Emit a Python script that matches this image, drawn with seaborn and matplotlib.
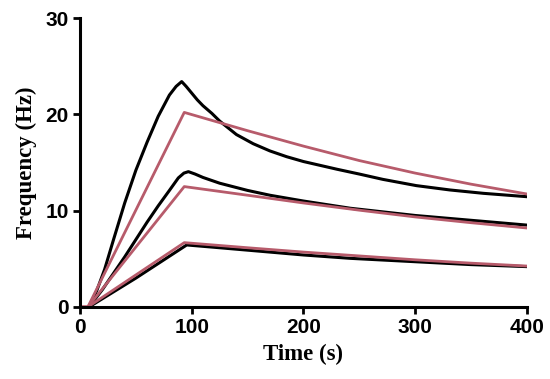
import seaborn as sns
import matplotlib.pyplot as plt
import pandas as pd

# measured sensor response (black) and fitted model (red), three concentrations
t_high = [8, 15, 22, 30, 40, 50, 60, 70, 80, 86, 91, 95, 100, 105, 110, 118, 125, 140, 155, 170,
          185, 200, 230, 250, 271, 301, 331, 361, 400]
f_high = [0, 1.7, 3.9, 7.0, 10.8, 14.2, 17.1, 19.8, 22.0, 22.9, 23.4, 22.9, 22.2, 21.5, 20.9, 20.1,
          19.3, 17.9, 16.95, 16.2, 15.6, 15.1, 14.3, 13.8, 13.25, 12.6, 12.15, 11.8, 11.45]

t_mid = [8, 20, 30, 40, 50, 60, 70, 80, 88, 93, 97, 103, 110, 125, 150, 170, 200, 242, 300, 350, 400]
f_mid = [0, 1.8, 3.5, 5.2, 7.0, 8.8, 10.5, 12.1, 13.4, 13.9, 14.05, 13.8, 13.45, 12.85, 12.1, 11.6,
         11.0, 10.25, 9.5, 9.0, 8.5]

t_low = [8, 50, 95.5, 120, 150, 200, 242, 300, 350, 400]
f_low = [0, 3.0, 6.44, 6.2, 5.9, 5.4, 5.05, 4.7, 4.4, 4.19]

t_fit = [0, 7, 93.3, 150, 200, 250, 300, 350, 400]
fit_high = [0, 0, 20.2, 18.3, 16.7, 15.2, 13.9, 12.75, 11.73]
fit_mid = [0, 0, 12.5, 11.6, 10.8, 10.05, 9.35, 8.75, 8.2]
fit_low = [0, 0, 6.68, 6.15, 5.7, 5.3, 4.9, 4.55, 4.25]

data_color = "black"
fit_color = "#B75B6B"

sns.set_style("ticks")
fig = plt.figure(figsize=(5.5, 3.79), dpi=100)
ax = fig.add_axes([0.1455, 0.19, 0.8125, 0.7625])

for t, f in [(t_high, f_high), (t_mid, f_mid), (t_low, f_low)]:
    sns.lineplot(x=t, y=f, color=data_color, linewidth=2.2, ax=ax)
for f in [fit_high, fit_mid, fit_low]:
    sns.lineplot(x=t_fit, y=f, color=fit_color, linewidth=2.0, ax=ax)

ax.set_xlim(0, 400)
ax.set_ylim(0, 30)
ax.set_xticks([0, 100, 200, 300, 400])
ax.set_yticks([0, 10, 20, 30])
sns.despine(ax=ax)
for side in ["left", "bottom"]:
    ax.spines[side].set_linewidth(2.2)
    ax.spines[side].set_color("black")
ax.tick_params(axis="both", length=5, width=2.0, color="black", pad=3)
for lab in ax.get_xticklabels() + ax.get_yticklabels():
    lab.set_family("Liberation Sans")
    lab.set_fontweight("bold")
    lab.set_fontsize(15)
    lab.set_color("black")

ax.set_xlabel("Time (s)", family="Liberation Serif", fontweight="bold", fontsize=16.5, color="black", labelpad=5)
ax.set_ylabel("Frequency (Hz)", family="Liberation Serif", fontweight="bold", fontsize=16.5, color="black", labelpad=6)

fig.savefig("out.png", dpi=100)
